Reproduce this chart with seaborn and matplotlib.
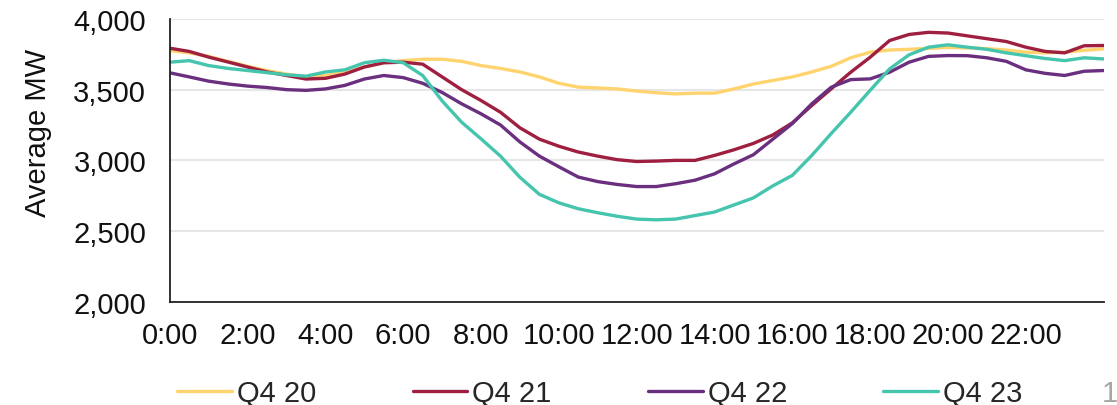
import pandas as pd
import numpy as np
import matplotlib
matplotlib.use("Agg")
import matplotlib.pyplot as plt
import seaborn as sns

sns.set_style("white")
plt.rcParams['font.family'] = ['Liberation Sans', 'DejaVu Sans']

# half-hourly average load (hours 0..24)
hours = [i * 0.5 for i in range(49)]

q4_20 = [3776, 3760, 3735, 3700, 3665, 3635, 3610, 3592, 3600, 3620,
         3660, 3690, 3705, 3715, 3715, 3700, 3670, 3650, 3625, 3590,
         3545, 3518, 3512, 3505, 3490, 3478, 3470, 3475, 3475, 3505,
         3540, 3565, 3590, 3625, 3665, 3725, 3765, 3780, 3785, 3792,
         3798, 3795, 3790, 3780, 3765, 3760, 3765, 3778, 3788]

q4_21 = [3793, 3770, 3730, 3695, 3660, 3625, 3600, 3575, 3580, 3610,
         3660, 3690, 3694, 3680, 3590, 3500, 3423, 3340, 3230, 3150,
         3100, 3059, 3030, 3005, 2992, 2995, 3000, 3000, 3035, 3075,
         3120, 3180, 3265, 3388, 3506, 3623, 3729, 3847, 3890, 3905,
         3900, 3880, 3860, 3840, 3800, 3770, 3760, 3810, 3812]

q4_22 = [3619, 3590, 3560, 3540, 3525, 3515, 3500, 3495, 3505, 3530,
         3575, 3600, 3585, 3545, 3480, 3400, 3329, 3250, 3130, 3030,
         2955, 2882, 2850, 2830, 2815, 2815, 2835, 2860, 2905, 2975,
         3040, 3150, 3260, 3400, 3517, 3571, 3576, 3623, 3694, 3735,
         3741, 3740, 3725, 3700, 3640, 3615, 3600, 3630, 3635]

q4_23 = [3694, 3705, 3670, 3650, 3635, 3620, 3605, 3595, 3625, 3640,
         3690, 3708, 3690, 3600, 3420, 3270, 3152, 3030, 2880, 2760,
         2700, 2658, 2630, 2605, 2585, 2580, 2585, 2610, 2635, 2685,
         2735, 2820, 2894, 3035, 3190, 3340, 3495, 3647, 3746, 3800,
         3817, 3800, 3785, 3760, 3740, 3720, 3705, 3725, 3717]

quarters = ["Q4 20", "Q4 21", "Q4 22", "Q4 23"]
colors = ["#FFD36E", "#9E1F40", "#6A2F7E", "#45C4AE"]
tick_hours = list(range(0, 25, 2))
tick_labels = ["%d:00" % h for h in range(0, 24, 2)] + [""]

df = pd.DataFrame({
    "hour": hours * 4,
    "mw": q4_20 + q4_21 + q4_22 + q4_23,
    "quarter": np.repeat(quarters, len(hours)),
})

fig = plt.figure(figsize=(11.17, 4.06), dpi=100)
ax = fig.add_axes([0.152, 0.254, 0.836, 0.697])

sns.lineplot(data=df, x="hour", y="mw", hue="quarter", hue_order=quarters,
             palette=colors, linewidth=2.4, ax=ax)

ax.set_xlim(0, 24)
ax.set_ylim(2000, 4000)
ax.set_yticks([2000, 2500, 3000, 3500, 4000])
ax.set_yticklabels(["{:,}".format(v) for v in [2000, 2500, 3000, 3500, 4000]])
ax.set_xticks(tick_hours)
ax.set_xticklabels(tick_labels)
ax.yaxis.grid(True, color="#e6e6e6", linewidth=1.5)
ax.set_axisbelow(True)
for s in ["top", "right"]:
    ax.spines[s].set_visible(False)
for s in ["left", "bottom"]:
    ax.spines[s].set_color("#222222")
    ax.spines[s].set_linewidth(1.3)
ax.tick_params(axis="both", direction="out", length=7, width=1.3,
               color="#222222", labelsize=21, labelcolor="#111111")
ax.tick_params(axis="x", pad=7)
ax.tick_params(axis="y", pad=10)
ax.set_xlabel("")
ax.set_ylabel("Average MW", fontsize=21, color="#111111")
ax.yaxis.set_label_coords(-0.126, 0.60)

handles, labels = ax.get_legend_handles_labels()
ax.get_legend().remove()
fig.legend(handles, labels, loc="center", bbox_to_anchor=(0.537, 0.03),
           ncol=4, frameon=False, fontsize=21, handlelength=1.88,
           handletextpad=0.17, columnspacing=3.3, borderpad=0)

fig.text(1102 / 1117, 0.03, "1", fontsize=21, color="#a6a6a6",
         ha="left", va="center")

fig.savefig("out.png", dpi=100)
